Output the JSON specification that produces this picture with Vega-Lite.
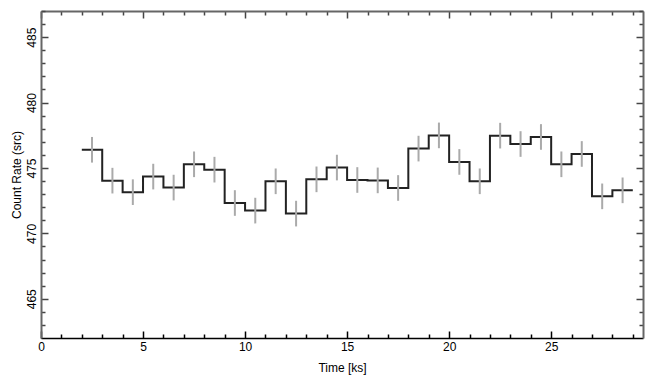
{
  "$schema": "https://vega.github.io/schema/vega-lite/v6.json",
  "width": 602,
  "height": 327,
  "autosize": "none",
  "padding": {"left": 41, "top": 11, "right": 12, "bottom": 47},
  "config": {
    "view": {"stroke": null},
    "font": "Liberation Sans",
    "axis": {
      "grid": false,
      "domainColor": "#666666",
      "domainWidth": 2,
      "tickColor": "#444444",
      "tickWidth": 1.5,
      "labelFont": "Liberation Sans",
      "labelFontSize": 12,
      "labelColor": "#000000",
      "titleFont": "Liberation Sans",
      "titleFontSize": 12,
      "titleFontWeight": "normal",
      "titleColor": "#000000"
    }
  },
  "datasets": {
    "bins": [
      {"start": 2, "end": 3, "time": 2.5, "rate": 476.39, "err": 0.98},
      {"start": 3, "end": 4, "time": 3.5, "rate": 474.03, "err": 0.98},
      {"start": 4, "end": 5, "time": 4.5, "rate": 473.15, "err": 0.98},
      {"start": 5, "end": 6, "time": 5.5, "rate": 474.34, "err": 0.98},
      {"start": 6, "end": 7, "time": 6.5, "rate": 473.5, "err": 0.98},
      {"start": 7, "end": 8, "time": 7.5, "rate": 475.28, "err": 0.98},
      {"start": 8, "end": 9, "time": 8.5, "rate": 474.87, "err": 0.98},
      {"start": 9, "end": 10, "time": 9.5, "rate": 472.32, "err": 0.98},
      {"start": 10, "end": 11, "time": 10.5, "rate": 471.74, "err": 0.98},
      {"start": 11, "end": 12, "time": 11.5, "rate": 473.98, "err": 0.98},
      {"start": 12, "end": 13, "time": 12.5, "rate": 471.51, "err": 0.98},
      {"start": 13, "end": 14, "time": 13.5, "rate": 474.13, "err": 0.98},
      {"start": 14, "end": 15, "time": 14.5, "rate": 475.03, "err": 0.98},
      {"start": 15, "end": 16, "time": 15.5, "rate": 474.08, "err": 0.98},
      {"start": 16, "end": 17, "time": 16.5, "rate": 474.05, "err": 0.98},
      {"start": 17, "end": 18, "time": 17.5, "rate": 473.47, "err": 0.98},
      {"start": 18, "end": 19, "time": 18.5, "rate": 476.48, "err": 0.98},
      {"start": 19, "end": 20, "time": 19.5, "rate": 477.49, "err": 0.98},
      {"start": 20, "end": 21, "time": 20.5, "rate": 475.46, "err": 0.98},
      {"start": 21, "end": 22, "time": 21.5, "rate": 473.98, "err": 0.98},
      {"start": 22, "end": 23, "time": 22.5, "rate": 477.47, "err": 0.98},
      {"start": 23, "end": 24, "time": 23.5, "rate": 476.83, "err": 0.98},
      {"start": 24, "end": 25, "time": 24.5, "rate": 477.37, "err": 0.98},
      {"start": 25, "end": 26, "time": 25.5, "rate": 475.28, "err": 0.98},
      {"start": 26, "end": 27, "time": 26.5, "rate": 476.07, "err": 0.98},
      {"start": 27, "end": 28, "time": 27.5, "rate": 472.83, "err": 0.98},
      {"start": 28, "end": 29, "time": 28.5, "rate": 473.29, "err": 0.98}
    ]
  },
  "data": {"name": "bins"},
  "layer": [
    {
      "transform": [{"fold": ["start", "end"], "as": ["edge", "t"]}],
      "mark": {"type": "line", "color": "#222222", "strokeWidth": 2, "interpolate": "linear"},
      "encoding": {
        "x": {
          "field": "t", "type": "quantitative",
          "scale": {"domain": [0, 29.5], "nice": false, "zero": false},
          "axis": {
            "orient": "bottom",
            "title": "Time [ks]",
            "titlePadding": 10,
            "values": [0,1,2,3,4,5,6,7,8,9,10,11,12,13,14,15,16,17,18,19,20,21,22,23,24,25,26,27,28,29],
            "labelExpr": "datum.value % 5 === 0 ? datum.label : ''",
            "domainColor": "#000000",
            "domainWidth": 1.5,
            "tickColor": "#000000",
            "tickSize": {"condition": {"test": "datum.value % 5 === 0", "value": -7}, "value": -4},
            "labelPadding": 10,
            "labelFlush": false
          }
        },
        "y": {
          "field": "rate", "type": "quantitative",
          "scale": {"domain": [462, 487], "nice": false, "zero": false},
          "axis": {
            "orient": "left",
            "title": "Count Rate (src)",
            "titlePadding": 2,
            "values": [463,464,465,466,467,468,469,470,471,472,473,474,475,476,477,478,479,480,481,482,483,484,485,486,487],
            "labelExpr": "datum.value % 5 === 0 ? datum.label : ''",
            "labelAngle": -90,
            "labelAlign": "center",
            "labelBaseline": "bottom",
            "tickSize": {"condition": {"test": "datum.value % 5 === 0", "value": -7}, "value": -4},
            "labelPadding": 10
          }
        },
        "order": [{"field": "t", "type": "quantitative"}, {"field": "start", "type": "quantitative"}]
      }
    },
    {
      "mark": {"type": "errorbar", "color": "#aaaaaa", "thickness": 2},
      "encoding": {
        "x": {
          "field": "time", "type": "quantitative",
          "scale": {"domain": [0, 29.5], "nice": false, "zero": false},
          "axis": {
            "orient": "top",
            "title": null,
            "labels": false,
            "values": [0,1,2,3,4,5,6,7,8,9,10,11,12,13,14,15,16,17,18,19,20,21,22,23,24,25,26,27,28,29],
            "tickSize": {"condition": {"test": "datum.value % 5 === 0", "value": -7}, "value": -4}
          }
        },
        "y": {
          "field": "rate", "type": "quantitative",
          "scale": {"domain": [462, 487], "nice": false, "zero": false},
          "axis": {
            "orient": "right",
            "title": null,
            "labels": false,
            "values": [463,464,465,466,467,468,469,470,471,472,473,474,475,476,477,478,479,480,481,482,483,484,485,486,487],
            "tickSize": {"condition": {"test": "datum.value % 5 === 0", "value": -7}, "value": -4}
          }
        },
        "yError": {"field": "err"}
      }
    }
  ],
  "resolve": {"axis": {"x": "independent", "y": "independent"}}
}
